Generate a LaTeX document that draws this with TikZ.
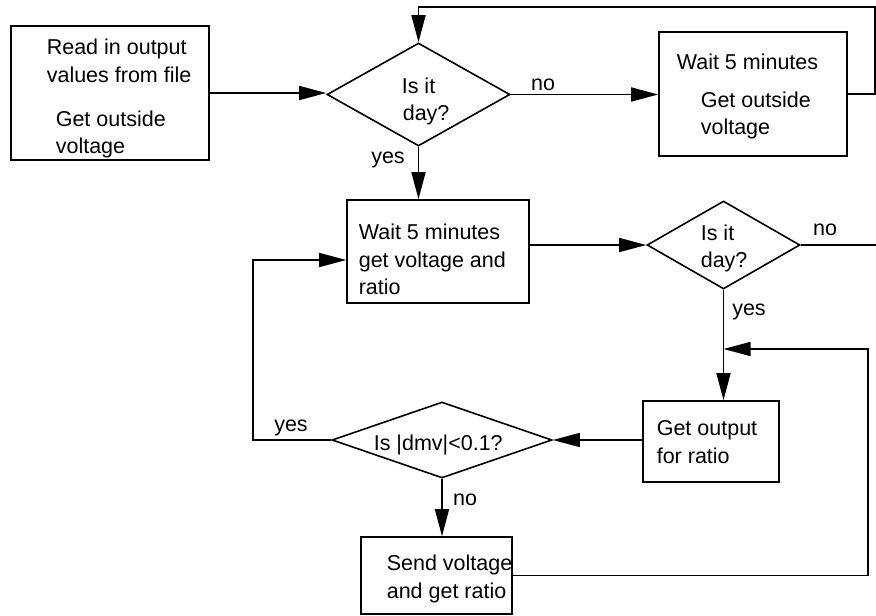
\documentclass[tikz,border=0pt]{standalone}
\usepackage{fontspec}
\setmainfont{Liberation Sans}
\usetikzlibrary{arrows.meta,shapes.geometric}
\begin{document}
\begin{tikzpicture}[x=1pt,y=-1pt,line width=1.6pt,
  flow/.style={-{Triangle[length=27pt,width=14pt]}},
  procbox/.style n args={2}{draw,rectangle,inner sep=0pt,minimum width=#1,minimum height=#2},
  decision/.style n args={2}{draw,diamond,inner sep=0pt,minimum width=#1,minimum height=#2},
  txt/.style={inner sep=0pt,anchor=base west,font=\fontsize{21.5}{26}\selectfont},
  lbl/.style={inner sep=0pt,anchor=base,font=\fontsize{21.5}{26}\selectfont}]
\useasboundingbox (0,0) rectangle (876,616);

% process boxes
\node[procbox={198pt}{134pt}] (start) at (110,93) {};
\node[procbox={188pt}{124pt}] (waitout) at (753,94) {};
\node[procbox={182pt}{103pt}] (waitget) at (438,251.5) {};
\node[procbox={136pt}{81pt}] (getout) at (711,441.5) {};
\node[procbox={151pt}{77pt}] (send) at (436.5,575.5) {};

% decisions
\node[decision={183pt}{103pt}] (day1) at (418.5,94.5) {};
\node[decision={153pt}{88pt}] (day2) at (723.5,245) {};
\node[decision={220pt}{76pt}] (dmv) at (442,440) {};

% texts
\node[txt] (tA1) at (46,54) {Read in output};
\node[txt] (tA2) at (46,82) {values from file};
\node[txt] (tA3) at (55,126) {Get outside};
\node[txt] (tA4) at (55,153) {voltage};

\node[txt] (tB1) at (676,69) {Wait 5 minutes};
\node[txt] (tB2) at (700,107) {Get outside};
\node[txt] (tB3) at (700,134) {voltage};

\node[txt] (tD11) at (401,93) {Is it};
\node[txt] (tD12) at (402,120) {day?};

\node[txt] (tC1) at (358,239) {Wait 5 minutes};
\node[txt] (tC2) at (358,267) {get voltage and};
\node[txt] (tC3) at (358,294) {ratio};

\node[txt] (tD21) at (700,240) {Is it};
\node[txt] (tD22) at (700,267) {day?};

\node[txt] (tE1) at (656,435) {Get output};
\node[txt] (tE2) at (656,463) {for ratio};

\node[txt] (tD3) at (373,450) {Is |dmv|<0.1?};

\node[txt] (tF1) at (386,570) {Send voltage};
\node[txt] (tF2) at (386,598) {and get ratio};

% branch labels
\node[lbl] (no1) at (543,90) {no};
\node[lbl] (yes1) at (388,163) {yes};
\node[lbl] (no2) at (825,235) {no};
\node[lbl] (yes2) at (749,315) {yes};
\node[lbl] (yes3) at (291,431) {yes};
\node[lbl] (no3) at (465,505) {no};

% helper points
\coordinate (topright) at (875,7);
\coordinate (dayend) at (876,245);
\coordinate (join) at (723.5,349);
\coordinate (loopright) at (868,349);
\coordinate (loopleft) at (253,260);

% connectors
\draw[flow] (start.east) -- (start.east -| day1.west);
\draw[flow] (day1.east) -- (day1.east -| waitout.west);
\draw[flow] (waitout.east) -| (topright) -| (day1.north);
\draw[flow] (day1.south) -- (day1.south |- waitget.north);
\draw[flow] (day2.west -| waitget.east) -- (day2.west);
\draw (day2.east) -- (dayend);
\draw (day2.south) -- (join);
\draw[flow] (join) -- (join |- getout.north);
\draw[flow] (send.east) -| (loopright) -- (join);
\draw[flow] (dmv.east -| getout.west) -- (dmv.east);
\draw[flow] (dmv.west) -| (loopleft) -- (loopleft -| waitget.west);
\draw[flow] (dmv.south) -- (dmv.south |- send.north);
\end{tikzpicture}
\end{document}
